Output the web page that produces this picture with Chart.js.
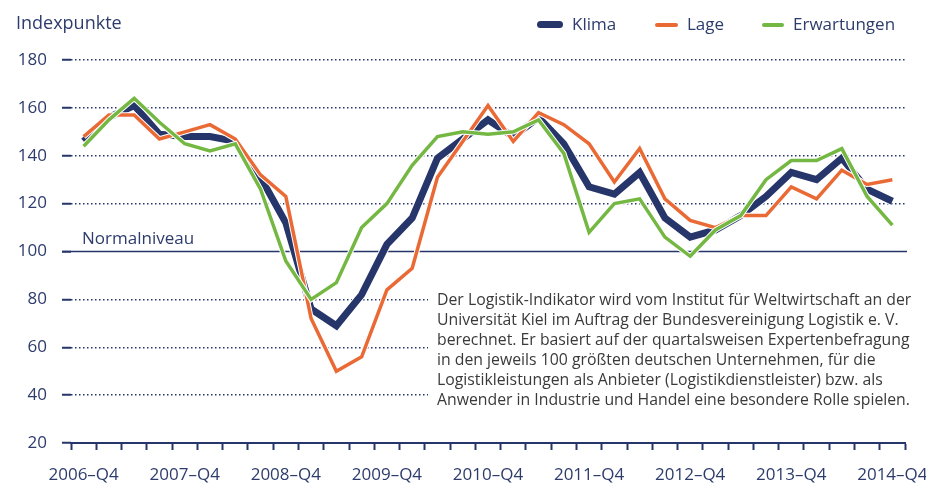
<!DOCTYPE html>
<html lang="de">
<head>
<meta charset="utf-8">
<script src="https://cdn.jsdelivr.net/npm/chart.js@4.4.1/dist/chart.umd.min.js"></script>
<style>
html,body{margin:0;padding:0;background:#fff}
#wrap{position:relative;width:926px;height:485px;font-family:"Open Sans",sans-serif;color:#2d3c6c;overflow:hidden}
#c{position:absolute;left:0;top:0}
.lbl{position:absolute;font-size:17px;line-height:17px;white-space:nowrap}
.mark{position:absolute;border-radius:4px}
#note{position:absolute;left:428px;top:289px;padding:0 0 4px 9px;width:489px;background:#fff;color:#3a3a3a;font-size:15.8px;line-height:20px;white-space:nowrap}
</style>
</head>
<body>
<div id="wrap">
<canvas id="c" width="926" height="485"></canvas>
<div class="lbl" style="left:16px;top:13px;font-size:18px;line-height:18px">Indexpunkte</div>
<div class="lbl" id="normal" style="left:82px;top:229px">Normalniveau</div>
<div id="legend"></div>
<div id="note">Der Logistik-Indikator wird vom Institut für Weltwirtschaft an der<br>Universität Kiel im Auftrag der Bundesvereinigung Logistik e. V.<br>berechnet. Er basiert auf der quartalsweisen Expertenbefragung<br>in den jeweils 100 größten deutschen Unternehmen, für die<br>Logistikleistungen als Anbieter (Logistikdienstleister) bzw. als<br>Anwender in Industrie und Handel eine besondere Rolle spielen.</div>
</div>
<script>
let quarters = [
"2006–Q4","2007–Q1","2007–Q2","2007–Q3","2007–Q4","2008–Q1","2008–Q2","2008–Q3",
"2008–Q4","2009–Q1","2009–Q2","2009–Q3","2009–Q4","2010–Q1","2010–Q2","2010–Q3",
"2010–Q4","2011–Q1","2011–Q2","2011–Q3","2011–Q4","2012–Q1","2012–Q2","2012–Q3",
"2012–Q4","2013–Q1","2013–Q2","2013–Q3","2013–Q4","2014–Q1","2014–Q2","2014–Q3",
"2014–Q4"
]

let klima = [146,156,161,149,148,148,146,131,112,76,69,82,103,114,139,147,155,148,156,145,127,124,133,114,106,109,115,123,133,130,139,126,121]
let lage = [148,157,157,147,150,153,147,132,123,72,50,56,84,93,131,146,161,146,158,153,145,129,143,122,113,110,115,115,127,122,134,128,130]
let erwartungen = [144,155,164,154,145,142,145,126,96,80,87,110,120,136,148,150,149,150,155,141,108,120,122,106,98,109,115,130,138,138,143,123,111]

let yTicks = [20,40,60,80,100,120,140,160,180]
let normalLevel = 100

let navy = "#26356a"
let textNavy = "#2d3c6c"

// white halo under each line, like the print version
let outlinePlugin = {
id:"outline",
beforeDatasetDraw(chart, args){
let pts = args.meta.data
let ds = chart.data.datasets[args.index]
let ctx = chart.ctx
ctx.save()
ctx.beginPath()
pts.forEach((p,i)=>{ if(i===0) ctx.moveTo(p.x,p.y); else ctx.lineTo(p.x,p.y) })
ctx.strokeStyle = "#fff"
ctx.lineWidth = ds.borderWidth + 2
ctx.lineJoin = "miter"
ctx.stroke()
ctx.restore()
}
}

let normalPlugin = {
id:"normal",
beforeDatasetsDraw(chart){
let y = chart.scales.y.getPixelForValue(normalLevel)
let ctx = chart.ctx
ctx.save()
ctx.strokeStyle = navy
ctx.lineWidth = 1.6
ctx.beginPath()
ctx.moveTo(chart.chartArea.left - 9, y)
ctx.lineTo(chart.chartArea.right + 2, y)
ctx.stroke()
ctx.restore()
}
}

let chart = new Chart(document.getElementById("c"),{
type:"line",
data:{
labels: quarters,
datasets:[
{label:"Klima", data:klima, borderColor:navy, backgroundColor:navy, borderWidth:7, order:3},
{label:"Lage", data:lage, borderColor:"#ea6a36", backgroundColor:"#ea6a36", borderWidth:3.5, order:2},
{label:"Erwartungen", data:erwartungen, borderColor:"#74b843", backgroundColor:"#74b843", borderWidth:3.5, order:1}
]
},
options:{
responsive:false,
animation:false,
layout:{padding:{top:60, right:21, left:0, bottom:0}},
elements:{
point:{radius:0, hoverRadius:0},
line:{tension:0, borderJoinStyle:"miter", fill:false}
},
plugins:{legend:{display:false}, tooltip:{enabled:false}},
scales:{
x:{
type:"category",
offset:true,
grid:{offset:true, drawOnChartArea:false, drawTicks:true, tickLength:7, tickWidth:2, tickColor:navy},
border:{display:true, color:navy, width:2},
ticks:{
autoSkip:false, maxRotation:0, padding:15, color:textNavy,
font:{family:"Open Sans", size:17},
callback:(v,i)=> i % 4 === 0 ? quarters[i] : ""
},
afterFit:(s)=>{ s.height = 42; s.paddingLeft = 0; s.paddingRight = 0 }
},
y:{
min:yTicks[0], max:yTicks[yTicks.length-1],
afterBuildTicks:(s)=>{ s.ticks = yTicks.map(v=>({value:v})) },
grid:{
color:(c)=> (c.tick && (c.tick.value===normalLevel || c.tick.value===yTicks[0])) ? "rgba(0,0,0,0)" : navy,
lineWidth:1.5, drawTicks:true, tickLength:9, tickWidth:2, tickColor:navy
},
border:{display:false, dash:[1.5,2.5]},
ticks:{padding:15, color:textNavy, font:{family:"Open Sans", size:17}},
afterFit:(s)=>{ s.width = 71; s.paddingTop = 0; s.paddingBottom = 0 }
}
}
},
plugins:[normalPlugin, outlinePlugin]
})

// legend from the datasets
let legendX = [537,655,762]
let legendW = [26,23,22]
let legend = document.getElementById("legend")
chart.data.datasets.forEach((ds,i)=>{
let m = document.createElement("div")
m.className = "mark"
m.style.left = legendX[i] + "px"
m.style.width = legendW[i] + "px"
m.style.height = (i===0 ? 7 : 4) + "px"
m.style.top = (i===0 ? 21 : 23) + "px"
m.style.background = ds.borderColor
legend.appendChild(m)
let t = document.createElement("div")
t.className = "lbl"
t.style.left = (legendX[i] + legendW[i] + 9) + "px"
t.style.top = "15px"
t.textContent = ds.label
legend.appendChild(t)
})
</script>
</body>
</html>
